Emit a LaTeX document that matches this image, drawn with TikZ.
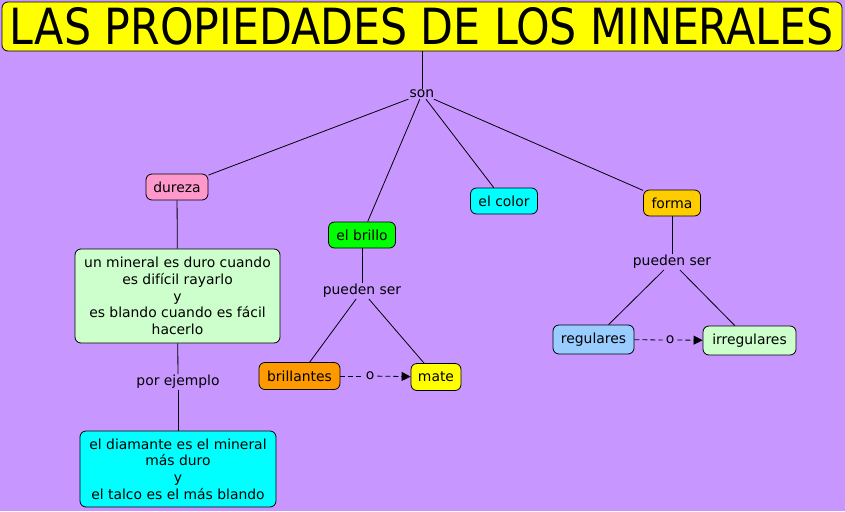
\documentclass[tikz,border=0pt]{standalone}
\usepackage{fontspec}
\setmainfont{DejaVu Sans}
\newfontfamily\titlefont{DejaVu Sans Condensed}
\usetikzlibrary{arrows.meta}
\definecolor{bg}{RGB}{200,150,255}
\definecolor{cpink}{RGB}{255,153,204}
\definecolor{cgreen}{RGB}{0,255,0}
\definecolor{ccyan}{RGB}{0,255,255}
\definecolor{cgold}{RGB}{255,204,0}
\definecolor{clight}{RGB}{204,255,204}
\definecolor{corange}{RGB}{255,153,0}
\definecolor{cyellow}{RGB}{255,255,0}
\definecolor{cblue}{RGB}{153,204,255}
\tikzset{
  concept/.style={draw=black, line width=0.8pt, rounded corners=6pt, align=center, font=\fontsize{13.9}{16.6}\selectfont, inner sep=0pt},
  link/.style={font=\fontsize{13.9}{16.6}\selectfont, inner sep=1pt, align=center},
  conn/.style={draw=black, line width=0.8pt},
  dconn/.style={draw=black, line width=0.8pt, dash pattern=on 5pt off 3pt},
}
\begin{document}
\begin{tikzpicture}[x=1pt,y=-1pt]
\useasboundingbox (0,0) rectangle (845,511);
\fill[bg] (0,0) rectangle (845,511);
% title
\node[concept, fill=cyellow, minimum width=840pt, minimum height=49pt] (title) at (422,26.5)
  {\resizebox{824pt}{37pt}{\titlefont LAS PROPIEDADES DE LOS MINERALES}};
\node[link] (son) at (422,94) {son};
\node[concept, fill=cpink, minimum width=62pt, minimum height=26pt] (dureza) at (177,187) {dureza};
\node[concept, fill=cgreen, minimum width=67pt, minimum height=26pt] (brillo) at (362,235) {el brillo};
\node[concept, fill=ccyan, minimum width=67pt, minimum height=26pt] (color) at (504,201) {el color};
\node[concept, fill=cgold, minimum width=57pt, minimum height=26pt] (forma) at (672,203) {forma};
\node[concept, fill=clight, minimum width=205pt, minimum height=94pt] (duro) at (177.5,296)
  {un mineral es duro cuando\\es difícil rayarlo\\y\\es blando cuando es fácil\\hacerlo};
\node[link] (ejemplo) at (178,382) {por ejemplo};
\node[concept, fill=ccyan, minimum width=196pt, minimum height=76pt] (diamante) at (178,469)
  {el diamante es el mineral\\más duro\\y\\el talco es el más blando};
\node[link] (pb) at (362,291) {pueden ser};
\node[concept, fill=corange, minimum width=81pt, minimum height=27pt] (brillantes) at (299.5,376) {brillantes};
\node[concept, fill=cyellow, minimum width=50pt, minimum height=27pt] (mate) at (436,377) {mate};
\node[link, inner sep=3pt] (o1) at (370,376) {o};
\node[link] (pf) at (672,262) {pueden ser};
\node[concept, fill=cblue, minimum width=81pt, minimum height=29pt] (regulares) at (593.5,339.5) {regulares};
\node[concept, fill=clight, minimum width=93pt, minimum height=29pt] (irregulares) at (749.5,340.5) {irregulares};
\node[link, inner sep=3pt] (o2) at (670,340) {o};
% connectors
\draw[conn] (title) -- (son);
\draw[conn] (son) -- (dureza);
\draw[conn] (son) -- (brillo);
\draw[conn] (son) -- (color);
\draw[conn] (son) -- (forma);
\draw[conn] (dureza) -- (duro);
\draw[conn] (duro) -- (ejemplo);
\draw[conn] (ejemplo) -- (diamante);
\draw[conn] (brillo) -- (pb);
\draw[conn] (pb) -- (brillantes);
\draw[conn] (pb) -- (mate);
\draw[conn] (forma) -- (pf);
\draw[conn] (pf) -- (regulares);
\draw[conn] (pf) -- (irregulares);
\draw[dconn] (brillantes) -- (o1);
\draw[dconn, -{Triangle[length=9pt,width=9pt]}] (o1) -- (mate);
\draw[dconn] (regulares) -- (o2);
\draw[dconn, -{Triangle[length=9pt,width=9pt]}] (o2) -- (irregulares);
\end{tikzpicture}
\end{document}
